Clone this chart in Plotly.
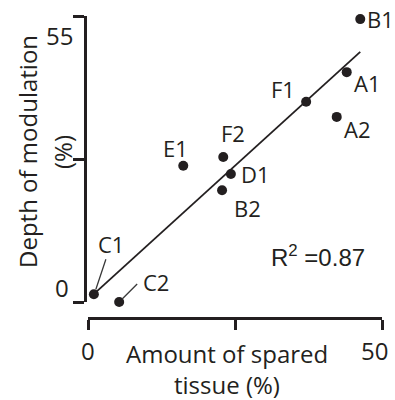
import plotly.graph_objects as go

# ---- data ----
labels = ["B1", "A1", "F1", "A2", "F2", "D1", "B2", "E1", "C1", "C2"]
spared = [46.3, 44.0, 37.1, 42.3, 23.0, 24.3, 22.8, 16.2, 1.0, 5.3]
depth = [54.4, 44.2, 38.5, 35.6, 27.9, 24.6, 21.5, 26.2, 1.5, 0.0]
fit_slope = 1.028
fit_intercept = 0.5
fit_x_range = [1.4, 46.3]
x_ticks = [0, 25, 50]
y_ticks = [0, 27.5, 55]
x_tick_text = ["0", "", "50"]
y_tick_text = ["0", "", "55"]
r2_text = "R<sup>2</sup> =0.87"

INK = "#231f20"
W, H = 395, 400
FONT = "Open Sans"

def px(x):
    return x / W

def py(y):
    return 1 - y / H

fig = go.Figure()

fit_y = [fit_slope * x + fit_intercept for x in fit_x_range]
fig.add_trace(go.Scatter(x=fit_x_range, y=fit_y, mode="lines",
                         line=dict(color=INK, width=1.8), cliponaxis=False,
                         hoverinfo="skip"))
fig.add_trace(go.Scatter(x=spared, y=depth, mode="markers",
                         marker=dict(color=INK, size=10), cliponaxis=False))

# label offsets in pixels (dx right, dy down)
offsets = {"B1": (20, 0), "A1": (21, 11), "F1": (-23, -13), "A2": (21, 12),
           "F2": (10, -24), "D1": (25, 0), "B2": (25, 18), "E1": (-8, -18),
           "C1": (17, -50), "C2": (37, -20)}
for lab, xv, yv in zip(labels, spared, depth):
    dx, dy = offsets[lab]
    fig.add_annotation(x=xv, y=yv, xref="x", yref="y", text=lab, showarrow=False,
                       xshift=dx, yshift=-dy, xanchor="center", yanchor="middle",
                       font=dict(family=FONT, size=22, color=INK))

# leader lines for C1, C2 (pixel offsets from the point, y up)
leaders = {"C1": (2, 5, 12, 35), "C2": (3, 3, 18, 18)}
for lab, xv, yv in zip(labels, spared, depth):
    if lab in leaders:
        x0, y0, x1, y1 = leaders[lab]
        fig.add_shape(type="line", xref="x", yref="y", xsizemode="pixel",
                      ysizemode="pixel", xanchor=xv, yanchor=yv,
                      x0=x0, y0=y0, x1=x1, y1=y1,
                      line=dict(color="#3a3a3a", width=1.3))

# tick labels
tick_font = dict(family=FONT, size=24, color=INK)
fig.add_annotation(x=px(88), y=py(350), xref="paper", yref="paper", text=x_tick_text[0],
                   showarrow=False, font=tick_font, xanchor="center", yanchor="middle")
fig.add_annotation(x=px(374), y=py(350), xref="paper", yref="paper", text=x_tick_text[2],
                   showarrow=False, font=tick_font, xanchor="center", yanchor="middle")
fig.add_annotation(x=px(62), y=py(287), xref="paper", yref="paper", text=y_tick_text[0],
                   showarrow=False, font=tick_font, xanchor="center", yanchor="middle")
fig.add_annotation(x=px(59), y=py(36), xref="paper", yref="paper", text=y_tick_text[2],
                   showarrow=False, font=tick_font, xanchor="center", yanchor="middle")

# axis titles
title_font = dict(family=FONT, size=24, color=INK)
fig.add_annotation(x=px(227), y=py(353), xref="paper", yref="paper", text="Amount of spared",
                   showarrow=False, font=title_font, xanchor="center", yanchor="middle")
fig.add_annotation(x=px(227), y=py(384), xref="paper", yref="paper", text="tissue (%)",
                   showarrow=False, font=title_font, xanchor="center", yanchor="middle")
fig.add_annotation(x=px(27), y=py(152), xref="paper", yref="paper", text="Depth of modulation",
                   showarrow=False, font=title_font, textangle=-90,
                   xanchor="center", yanchor="middle")
fig.add_annotation(x=px(62), y=py(152), xref="paper", yref="paper", text="(%)",
                   showarrow=False, font=title_font, textangle=-90,
                   xanchor="center", yanchor="middle")

# R^2
fig.add_annotation(x=px(318), y=py(256), xref="paper", yref="paper", text=r2_text,
                   showarrow=False, font=dict(family="Liberation Sans, Arial", size=24, color=INK),
                   xanchor="center", yanchor="middle")

fig.update_layout(
    width=W, height=H, margin=dict(l=0, r=0, t=0, b=0),
    paper_bgcolor="white", plot_bgcolor="white", showlegend=False,
    xaxis=dict(domain=[px(88), px(382)], range=[0, 50], anchor="free", position=py(318),
               showline=True, linewidth=2.6, linecolor=INK, ticks="outside", ticklen=10,
               tickwidth=2.6, tickcolor=INK, tickvals=x_ticks, ticktext=x_tick_text,
               showticklabels=False, showgrid=False, zeroline=False),
    yaxis=dict(domain=[py(302), py(16)], range=[0, 55], anchor="free", position=px(85),
               showline=True, linewidth=2.6, linecolor=INK, ticks="outside", ticklen=11,
               tickwidth=2.6, tickcolor=INK, tickvals=y_ticks, ticktext=y_tick_text,
               showticklabels=False, showgrid=False, zeroline=False),
)

fig.write_html("out.html", config={"displayModeBar": False},
               post_script="document.body.style.margin='0px';")
